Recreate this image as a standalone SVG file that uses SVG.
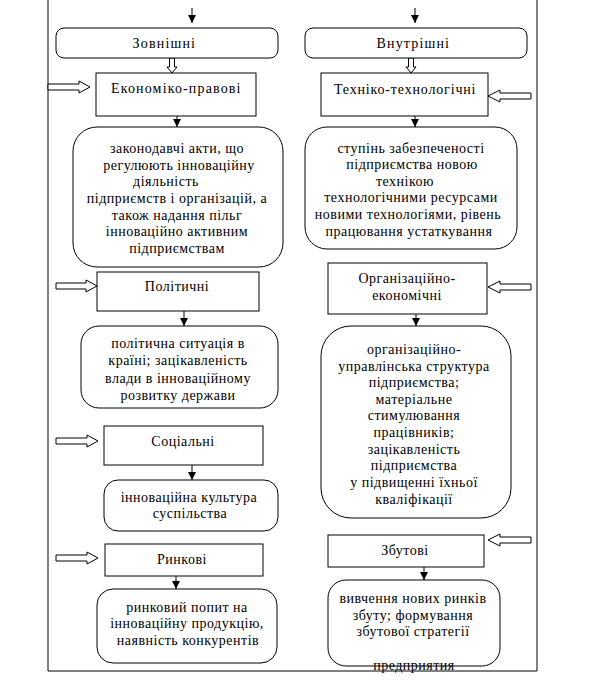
<svg xmlns="http://www.w3.org/2000/svg" width="613" height="692" viewBox="0 0 613 692">
<style>
.bx{fill:#fff;stroke:#000;stroke-width:1}
.t{font-family:"Liberation Serif","Times New Roman",serif;font-size:14px;letter-spacing:0.5px;fill:#000;text-anchor:middle}
.ln{stroke:#000;stroke-width:1;fill:none}
.ha{fill:#fff;stroke:#000;stroke-width:1}
</style>
<defs>
<marker id="ah" markerUnits="userSpaceOnUse" markerWidth="8" markerHeight="8" refX="8" refY="4" orient="auto">
<path d="M0,0 L8,4 L0,8 z" fill="#000"/>
</marker>
</defs>
<rect width="613" height="692" fill="#fff"/>
<g id="frame">
<path class="ln" d="M48 0 V671 H537 V0"/>
</g>
<g id="connectors">
<path class="ln" d="M192 8 V23" marker-end="url(#ah)"/>
<path class="ln" d="M415 8 V23" marker-end="url(#ah)"/>
<path class="ln" d="M177 116 V127" marker-end="url(#ah)"/>
<path class="ln" d="M415 116 V127" marker-end="url(#ah)"/>
<path class="ln" d="M184 311 V326" marker-end="url(#ah)"/>
<path class="ln" d="M416 314 V326" marker-end="url(#ah)"/>
<path class="ln" d="M192 465 V480" marker-end="url(#ah)"/>
<path class="ln" d="M424 567 V580" marker-end="url(#ah)"/>
<path class="ln" d="M176 576 V589" marker-end="url(#ah)"/>
<path class="ha" d="M169.5 58 V67 H167 L172 73 L177 67 H174.5 V58 Z"/>
<path class="ha" d="M408.5 58 V67 H406 L411 73 L416 67 H413.5 V58 Z"/>
<path class="ha" d="M48 84 H79 V81 L90 87 L79 93 V90 H48 Z"/>
<path class="ha" d="M56 283 H86 V280 L97 286 L86 292 V289 H56 Z"/>
<path class="ha" d="M56 438 H87 V435 L98 441 L87 447 V444 H56 Z"/>
<path class="ha" d="M56 555 H87 V552 L98 558 L87 564 V561 H56 Z"/>
<path class="ha" d="M531 93 H500 V90 L488 96 L500 102 V99 H531 Z"/>
<path class="ha" d="M531 284 H500 V281 L488 287 L500 293 V290 H531 Z"/>
<path class="ha" d="M531 537 H500 V534 L488 540 L500 546 V543 H531 Z"/>
</g>
<g id="zovnishni">
<rect class="bx" x="56" y="28" width="222" height="30" rx="8"/>
<text class="t" x="164" y="48" textLength="63">Зовнішні</text>
</g>
<g id="vnutrishni">
<rect class="bx" x="305" y="28" width="222" height="30" rx="8"/>
<text class="t" x="413" y="48" textLength="73">Внутрішні</text>
</g>
<g id="ekonomiko-pravovi">
<rect class="bx" x="96" y="73" width="160" height="43"/>
<text class="t" x="176" y="93" textLength="130">Економіко-правові</text>
</g>
<g id="tekhniko-tekhnologichni">
<rect class="bx" x="321" y="73" width="167" height="43"/>
<text class="t" x="405" y="94" textLength="142">Техніко-технологічні</text>
</g>
<g id="zakonodavchi">
<rect class="bx" x="73" y="127" width="210" height="140" rx="24"/>
<text class="t" x="177" y="153">законодавчі акти,  що</text>
<text class="t" x="179" y="170">регулюють  інноваційну</text>
<text class="t" x="166" y="186">діяльність</text>
<text class="t" x="177" y="203">підприємств і організацій, а</text>
<text class="t" x="177" y="220">також надання пільг</text>
<text class="t" x="177" y="236">інноваційно активним</text>
<text class="t" x="177" y="253">підприємствам</text>
</g>
<g id="stupin">
<rect class="bx" x="305" y="127" width="212" height="122" rx="22"/>
<text class="t" x="411" y="153">ступінь забезпеченості</text>
<text class="t" x="412" y="169">підприємства новою</text>
<text class="t" x="405" y="186">технікою</text>
<text class="t" x="411" y="202">технологічними ресурсами</text>
<text class="t" x="408" y="219">новими технологіями, рівень</text>
<text class="t" x="409" y="236">працювання устаткування</text>
</g>
<g id="politychni">
<rect class="bx" x="97" y="272" width="162" height="39"/>
<text class="t" x="177" y="291">Політичні</text>
</g>
<g id="orhanizatsiino-ekonomichni">
<rect class="bx" x="328" y="263" width="159" height="51"/>
<text class="t" x="407" y="283">Організаційно-</text>
<text class="t" x="407" y="300">економічні</text>
</g>
<g id="politychna-sytuatsiia">
<rect class="bx" x="81" y="326" width="197" height="82" rx="18"/>
<text class="t" x="178" y="348">політична ситуація в</text>
<text class="t" x="178" y="365">країні; зацікавленість</text>
<text class="t" x="178" y="383">влади в інноваційному</text>
<text class="t" x="178" y="400">розвитку держави</text>
</g>
<g id="orhanizatsiino-upravlinska">
<rect class="bx" x="321" y="326" width="190" height="192" rx="30"/>
<text class="t" x="414" y="354">організаційно-</text>
<text class="t" x="414" y="371">управлінська структура</text>
<text class="t" x="414" y="387">підприємства;</text>
<text class="t" x="414" y="404">матеріальне</text>
<text class="t" x="414" y="420">стимулювання</text>
<text class="t" x="414" y="437">працівників;</text>
<text class="t" x="414" y="454">зацікавленість</text>
<text class="t" x="414" y="470">підприємства</text>
<text class="t" x="414" y="487">у підвищенні їхньої</text>
<text class="t" x="414" y="504">кваліфікації</text>
</g>
<g id="sotsialni">
<rect class="bx" x="104" y="426" width="159" height="39"/>
<text class="t" x="183" y="446">Соціальні</text>
</g>
<g id="innovatsiina-kultura">
<rect class="bx" x="104" y="480" width="174" height="51" rx="14"/>
<text class="t" x="189" y="502">інноваційна культура</text>
<text class="t" x="190" y="518">суспільства</text>
</g>
<g id="zbutovi">
<rect class="bx" x="328" y="535" width="156" height="32"/>
<text class="t" x="405" y="555">Збутові</text>
</g>
<g id="rynkovi">
<rect class="bx" x="105" y="544" width="158" height="32"/>
<text class="t" x="182" y="564">Ринкові</text>
</g>
<g id="rynkovyi-popyt">
<rect class="bx" x="97" y="589" width="180" height="74" rx="16"/>
<text class="t" x="187" y="612">ринковий попит на</text>
<text class="t" x="187" y="628">інноваційну продукцію,</text>
<text class="t" x="188" y="645">наявність конкурентів</text>
</g>
<g id="vyvchennia">
<rect class="bx" x="328" y="580" width="172" height="86" rx="18"/>
<text class="t" x="413" y="603">вивчення нових ринків</text>
<text class="t" x="413" y="620">збуту; формування</text>
<text class="t" x="413" y="636">збутової стратегії</text>
<text class="t" x="414" y="670">предприятия</text>
</g>
</svg>
